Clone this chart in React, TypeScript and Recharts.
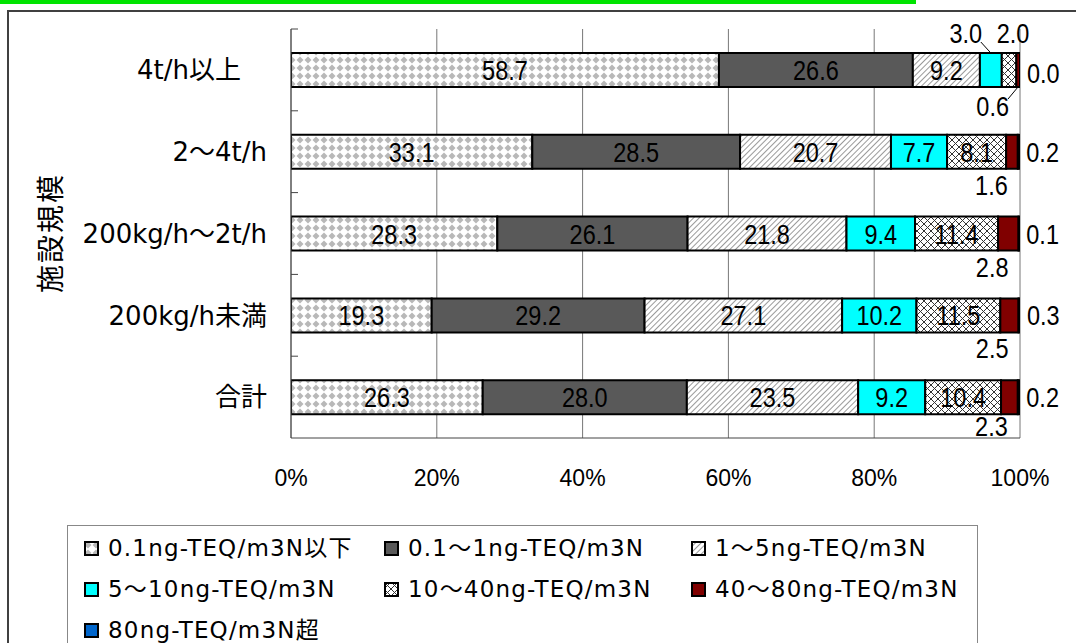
import React from 'react';
import { Bar, BarChart, CartesianGrid, LabelList, XAxis, YAxis } from 'recharts';

// 施設規模別 排ガス中ダイオキシン類濃度の分布（%）
const categories = ['4t/h以上\u3000', '2〜4t/h', '200kg/h〜2t/h', '200kg/h未満', '合計'];
const seriesNames = [
  '0.1ng-TEQ/m3N以下',
  '0.1〜1ng-TEQ/m3N',
  '1〜5ng-TEQ/m3N',
  '5〜10ng-TEQ/m3N',
  '10〜40ng-TEQ/m3N',
  '40〜80ng-TEQ/m3N',
  '80ng-TEQ/m3N超',
];
const under01 = [58.7, 33.1, 28.3, 19.3, 26.3];
const from01to1 = [26.6, 28.5, 26.1, 29.2, 28.0];
const from1to5 = [9.2, 20.7, 21.8, 27.1, 23.5];
const from5to10 = [3.0, 7.7, 9.4, 10.2, 9.2];
const from10to40 = [2.0, 8.1, 11.4, 11.5, 10.4];
const from40to80 = [0.6, 1.6, 2.8, 2.5, 2.3];
const over80 = [0.0, 0.2, 0.1, 0.3, 0.2];
const xTicks = [0, 20, 40, 60, 80, 100];

const seriesValues = [under01, from01to1, from1to5, from5to10, from10to40, from40to80, over80];
const keys = ['s1', 's2', 's3', 's4', 's5', 's6', 's7'];
const fills = [
  'url(#pDiamond)',
  '#595959',
  'url(#pHatch)',
  '#00ffff',
  'url(#pCross)',
  '#800000',
  '#0066cc',
];

const data = categories.map((name, i) => {
  const row: Record<string, string | number> = { name };
  keys.forEach((k, j) => {
    row[k] = seriesValues[j][i];
  });
  return row;
});

const W = 1076;
const H = 643;
const PLOT_LEFT = 291;
const PLOT_TOP = 29;
const PLOT_RIGHT = 1020;
const PLOT_BOTTOM = 438;
const BAND = (PLOT_BOTTOM - PLOT_TOP) / categories.length;

const jpFont = "'DejaVu Sans', 'Noto Sans CJK JP', sans-serif";
const numFont = "'Liberation Sans', Arial, sans-serif";

function box(p: any) {
  const vb = p.viewBox || {};
  return {
    x: Number(p.x ?? vb.x),
    y: Number(p.y ?? vb.y),
    w: Number(p.width ?? vb.width),
    h: Number(p.height ?? vb.height),
  };
}

// narrow numeric label (the original uses a condensed face)
function NumText({ x, y, anchor, value }: { x: number; y: number; anchor: string; value: number }) {
  return (
    <text
      transform={`translate(${x} ${y}) scale(0.84 1)`}
      x={0}
      y={0}
      dy="0.36em"
      textAnchor={anchor as any}
      fontFamily={numFont}
      fontSize={28}
      fill="#000"
    >
      {Number(value).toFixed(1)}
    </text>
  );
}

// labels inside the segment; row 0 of the two small series goes above the bar
function makeInsideLabel(series: number) {
  return (props: any) => {
    const { x, y, w, h } = box(props);
    const cx = x + w / 2;
    if (props.index === 0 && series === 3) {
      return (
        <g>
          <line x1={cx - 10} y1={y - 11} x2={cx} y2={y} stroke="#000" strokeWidth={1} />
          <NumText x={cx - 25} y={y - 20} anchor="middle" value={props.value} />
        </g>
      );
    }
    if (props.index === 0 && series === 4) {
      return <NumText x={cx + 4} y={y - 20} anchor="middle" value={props.value} />;
    }
    return <NumText x={cx} y={y + h / 2} anchor="middle" value={props.value} />;
  };
}

function BelowLabel(props: any) {
  const { x, y, w, h } = box(props);
  const end = x + w;
  const bottom = y + h;
  // a zero-width 80ng超 segment gets no label of its own, so it is drawn here
  const zeroRight =
    over80[props.index] === 0 ? <NumText x={end + 7} y={y + h / 2 + 3} anchor="start" value={over80[props.index]} /> : null;
  if (props.index === 0) {
    return (
      <g>
        <line x1={end - 12} y1={bottom + 12} x2={end - 2} y2={bottom} stroke="#000" strokeWidth={1} />
        <NumText x={end - 11} y={bottom + 19} anchor="end" value={props.value} />
        {zeroRight}
      </g>
    );
  }
  const off = props.index === categories.length - 1 ? 12 : 16;
  return (
    <g>
      <NumText x={end - 10} y={bottom + off} anchor="end" value={props.value} />
      {zeroRight}
    </g>
  );
}

function RightLabel(props: any) {
  const { x, y, w, h } = box(props);
  return <NumText x={x + w + 7} y={y + h / 2} anchor="start" value={props.value} />;
}

function CategoryTick(props: any) {
  const { x, y, payload } = props;
  return (
    <g>
      <text x={x} y={y} dy="0.36em" textAnchor="end" fontFamily={jpFont} fontSize={26} fill="#000">
        {payload.value}
      </text>
      <line x1={PLOT_LEFT} x2={PLOT_LEFT + 7} y1={y - BAND / 2} y2={y - BAND / 2} stroke="#444" />
    </g>
  );
}

function Patterns() {
  return (
    <svg width={0} height={0} style={{ position: 'absolute' }}>
      <defs>
        <pattern id="pDiamond" width="8" height="8" patternUnits="userSpaceOnUse">
          <rect width="8" height="8" fill="#fff" />
          <path d="M4 0.5 L7.5 4 L4 7.5 L0.5 4 Z" fill="#b8b8b8" />
        </pattern>
        <pattern id="pHatch" width="4" height="4" patternUnits="userSpaceOnUse" patternTransform="rotate(45)">
          <rect width="4" height="4" fill="#fff" />
          <line x1="0.5" y1="0" x2="0.5" y2="4" stroke="#9a9a9a" strokeWidth="1" />
        </pattern>
        <pattern id="pCross" width="7" height="7" patternUnits="userSpaceOnUse">
          <rect width="7" height="7" fill="#fff" />
          <path d="M0 0 L7 7 M7 0 L0 7" stroke="#333" strokeWidth="1" />
        </pattern>
      </defs>
    </svg>
  );
}

function LegendBox() {
  const cols = [16, 316, 623];
  const rows = [22, 63, 104];
  return (
    <div
      style={{
        position: 'absolute',
        left: 67,
        top: 525,
        width: 911,
        height: 140,
        border: '1px solid #888',
        background: '#fff',
        boxSizing: 'border-box',
      }}
    >
      {seriesNames.map((name, i) => (
        <div
          key={name}
          style={{
            position: 'absolute',
            left: cols[i % 3],
            top: rows[Math.floor(i / 3)] - 14,
            height: 28,
            lineHeight: '28px',
            display: 'flex',
            alignItems: 'center',
            whiteSpace: 'nowrap',
            fontFamily: jpFont,
            fontSize: 23,
            letterSpacing: 1.2,
            color: '#000',
          }}
        >
          <svg width={15} height={15} style={{ marginRight: 9 }}>
            <rect x={1} y={1} width={13} height={13} fill={fills[i]} stroke="#000" strokeWidth={2} />
          </svg>
          {name}
        </div>
      ))}
    </div>
  );
}

export default function App() {
  return (
    <div style={{ position: 'fixed', left: 0, top: 0, width: W, height: H, overflow: 'hidden', background: '#fff' }}>
      <Patterns />
      <div style={{ position: 'absolute', left: 0, top: 0, width: 916, height: 4, background: '#00e400' }} />
      <div
        style={{
          position: 'absolute',
          left: 7,
          top: 10,
          width: W,
          height: H,
          border: '2px solid #404040',
        }}
      />
      <div
        style={{
          position: 'absolute',
          left: 49,
          top: 233,
          transform: 'translate(-50%, -50%) rotate(-90deg)',
          fontFamily: jpFont,
          fontSize: 28,
          letterSpacing: 2,
          whiteSpace: 'nowrap',
        }}
      >
        施設規模
      </div>
      <div style={{ position: 'absolute', left: 0, top: 0 }}>
        <BarChart
          width={W}
          height={H}
          data={data}
          layout="vertical"
          margin={{ top: PLOT_TOP, right: W - PLOT_RIGHT, bottom: H - PLOT_BOTTOM - 60, left: 0 }}
        >
          <CartesianGrid horizontal={false} stroke="#777" />
          <XAxis
            type="number"
            domain={[0, 100]}
            ticks={xTicks}
            allowDataOverflow
            height={60}
            tickFormatter={(v: number) => `${v}%`}
            axisLine={{ stroke: '#444' }}
            tickLine={false}
            tickSize={0}
            tickMargin={32}
            tick={{ fontSize: 23, fill: '#000', fontFamily: numFont }}
          />
          <YAxis
            type="category"
            dataKey="name"
            width={PLOT_LEFT}
            interval={0}
            axisLine={{ stroke: '#444' }}
            tickLine={false}
            tickSize={0}
            tickMargin={24}
            tick={<CategoryTick />}
          />
          {keys.map((k, j) => (
            <Bar
              key={k}
              dataKey={k}
              name={seriesNames[j]}
              stackId="a"
              fill={fills[j]}
              stroke="#000"
              strokeWidth={2}
              barSize={34}
              isAnimationActive={false}
            >
              <LabelList
                dataKey={k}
                content={j === 6 ? RightLabel : j === 5 ? BelowLabel : makeInsideLabel(j)}
              />
            </Bar>
          ))}
        </BarChart>
      </div>
      <LegendBox />
    </div>
  );
}
